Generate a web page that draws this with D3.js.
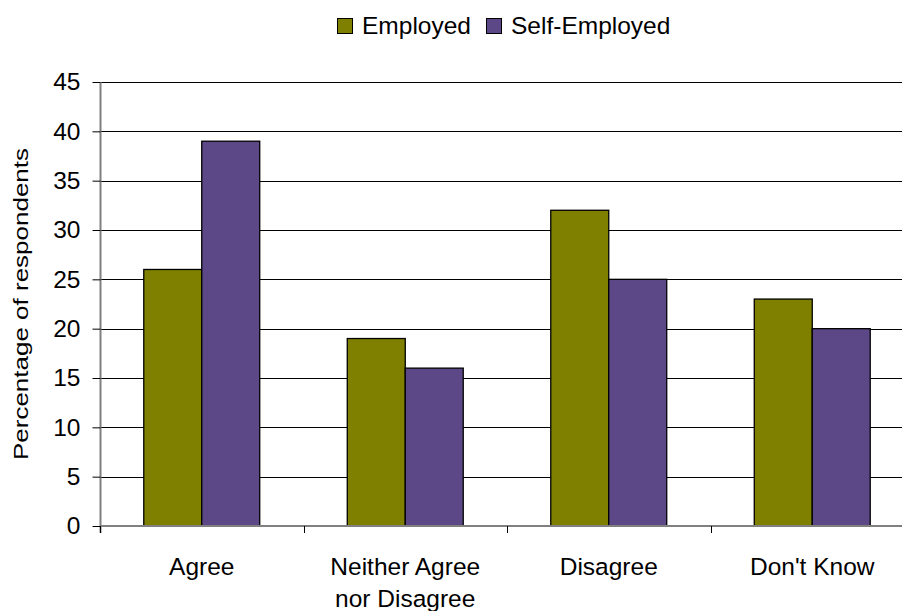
<!DOCTYPE html>
<html><head><meta charset="utf-8">
<script src="https://cdn.jsdelivr.net/npm/d3@7"></script>
<style>body{margin:0;background:#fff}svg{display:block;font-family:"Liberation Sans",Arial,sans-serif}</style>
</head><body>
<script>
const categories = [["Agree"], ["Neither Agree","nor Disagree"], ["Disagree"], ["Don't Know"]];
const seriesNames = ["Employed", "Self-Employed"];
const employed = [26, 19, 32, 23];
const selfEmployed = [39, 16, 25, 20];
const yTicks = [0, 5, 10, 15, 20, 25, 30, 35, 40, 45];
const colors = ["#808000", "#5c4886"];

(function() {
const W = 902, H = 611;
const svg = d3.select("body").append("svg").attr("width", W).attr("height", H);
const pL = 100, pR = 914, pT = 82, pB = 526;
const fs = 24.5;

const x = d3.scaleBand().domain(d3.range(categories.length)).range([pL, pR]).paddingInner(0).paddingOuter(0);
const x1 = d3.scaleBand().domain([0,1]).range([0, x.bandwidth()]).paddingOuter(0.755).paddingInner(0);
const y = d3.scaleLinear().domain([0, 45]).range([pB, pT]);

// gridlines
svg.append("g").selectAll("line").data(yTicks.filter(d => d > 0)).join("line")
  .attr("x1", pL).attr("x2", pR).attr("y1", d => Math.round(y(d)) + 0.5).attr("y2", d => Math.round(y(d)) + 0.5)
  .attr("stroke", "#000").attr("stroke-width", 1);

// y axis
const yAxis = svg.append("g").attr("transform", `translate(${pL + 0.5},0)`)
  .call(d3.axisLeft(y).tickValues(yTicks).tickSize(8).tickPadding(12));
yAxis.attr("font-family", null);
yAxis.select(".domain").attr("stroke", "#808080").attr("stroke-width", 2).attr("d", `M0,${pT}V${pB + 7}`);
yAxis.selectAll(".tick line").attr("stroke", "#000");
yAxis.selectAll(".tick text").attr("font-size", fs).attr("fill", "#000");

// bars
const data = categories.map((c, i) => ({i, vals: [employed[i], selfEmployed[i]]}));
const groups = svg.append("g").selectAll("g").data(data).join("g")
  .attr("transform", d => `translate(${x(d.i)},0)`);
groups.selectAll("rect").data(d => d.vals.map((v, k) => ({v, k}))).join("rect")
  .attr("x", d => x1(d.k)).attr("width", x1.bandwidth())
  .attr("y", d => y(d.v)).attr("height", d => pB - y(d.v))
  .attr("fill", d => colors[d.k]).attr("stroke", "#000").attr("stroke-width", 1.3);

// x axis
const xAxisG = svg.append("g").attr("transform", `translate(0,${pB})`);
xAxisG.append("line").attr("x1", pL).attr("x2", pR).attr("y1", 0).attr("y2", 0).attr("stroke", "#808080").attr("stroke-width", 2);
xAxisG.selectAll("line.t").data(d3.range(categories.length + 1)).join("line").attr("class", "t")
  .attr("x1", d => Math.round(pL + d * x.bandwidth()) + 0.5).attr("x2", d => Math.round(pL + d * x.bandwidth()) + 0.5)
  .attr("y1", 0).attr("y2", 7).attr("stroke", "#000");
const labels = xAxisG.selectAll("text").data(data).join("text")
  .attr("text-anchor", "middle").attr("font-size", fs).attr("fill", "#000")
  .attr("x", d => x(d.i) + x.bandwidth() / 2).attr("y", 49);
labels.selectAll("tspan").data(d => categories[d.i]).join("tspan")
  .attr("x", function() { return d3.select(this.parentNode).attr("x"); })
  .attr("dy", (d, k) => k === 0 ? 0 : 32).text(d => d);

// y title
svg.append("text").attr("transform", `translate(28,304) rotate(-90)`)
  .attr("text-anchor", "middle").attr("font-size", 20)
  .attr("textLength", 312).attr("lengthAdjust", "spacingAndGlyphs")
  .text("Percentage of respondents");

// legend
const leg = svg.append("g");
const legX = [337, 486];
seriesNames.forEach((n, k) => {
  leg.append("rect").attr("x", legX[k] + 0.5).attr("y", 18.5).attr("width", 15).attr("height", 15)
    .attr("fill", colors[k]).attr("stroke", "#000").attr("stroke-width", 1);
  leg.append("text").attr("x", legX[k] + 25).attr("y", 34).attr("font-size", fs).text(n);
});
})();
</script>
</body></html>
